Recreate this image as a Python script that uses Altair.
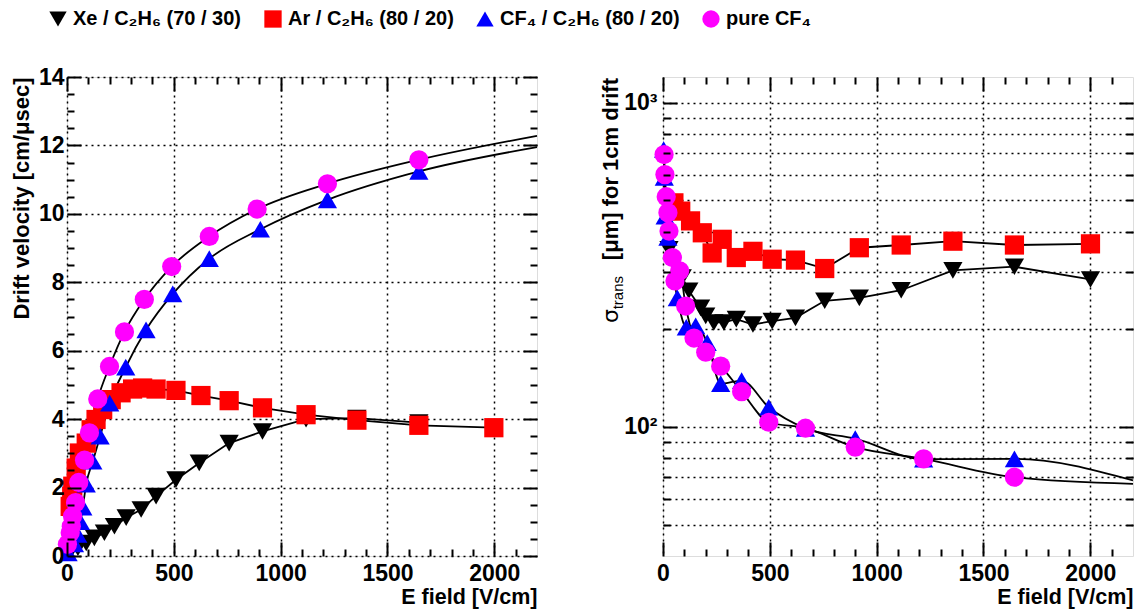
import altair as alt
import pandas as pd

FONT = "Liberation Sans"

# ---------------- series definitions ----------------
GAS = ["Xe / C₂H₆ (70 / 30)", "Ar / C₂H₆ (80 / 20)", "CF₄ / C₂H₆ (80 / 20)", "pure CF₄"]
SHAPES = ["triangle-down", "square", "triangle-up", "circle"]
COLORS = ["#000000", "#ff0000", "#0000ff", "#ff00ff"]

# ---------------- left panel: drift velocity [cm/us] ----------------
xe_vel_E = [12, 51, 90, 128, 175, 222, 277, 347, 417, 510, 619, 759, 915, 1119, 1357, 1647]
xe_vel = [0.10, 0.24, 0.38, 0.53, 0.68, 0.87, 1.12, 1.36, 1.75, 2.23, 2.72, 3.30, 3.64, 4.00, 4.03, 3.90]
ar_vel_E = [15, 22, 27, 43, 58, 90, 113, 136, 167, 207, 253, 307, 354, 417, 510, 627, 759, 915, 1119, 1357, 1647, 1998]
ar_vel = [1.45, 1.75, 2.04, 2.57, 3.01, 3.30, 3.69, 3.99, 4.28, 4.57, 4.77, 4.88, 4.91, 4.88, 4.84, 4.69, 4.54, 4.33, 4.13, 3.97, 3.82, 3.75]
cfmix_vel_E = [5, 35, 50, 63, 74, 90, 121, 155, 200, 275, 370, 495, 666, 905, 1219, 1647]
cfmix_vel = [0.09, 0.35, 0.63, 1.00, 1.43, 2.10, 2.77, 3.50, 4.47, 5.52, 6.61, 7.66, 8.69, 9.55, 10.41, 11.24]
cf4_vel_E = [2, 15, 20, 26, 40, 55, 82, 105, 144, 199, 269, 362, 490, 666, 890, 1219, 1647]
cf4_vel = [0.34, 0.68, 0.87, 1.16, 1.56, 2.15, 2.80, 3.60, 4.59, 5.54, 6.55, 7.50, 8.46, 9.34, 10.14, 10.88, 11.58]
# fitted curves continue to the end of the axis (values read at E = 2200)
curve_end_E = 2200
cfmix_vel_end = 11.95
cf4_vel_end = 12.28

# ---------------- right panel: sigma_trans [um] for 1 cm drift ----------------
xe_sig_E = [28, 90, 121, 176, 200, 238, 285, 343, 421, 511, 620, 757, 919, 1115, 1357, 1645, 2001]
xe_sig = [353, 289, 263, 233, 220, 210, 210, 215, 207, 212, 217, 245, 250, 264, 304, 312, 285]
ar_sig_E = [51, 83, 129, 184, 230, 277, 343, 421, 511, 620, 757, 919, 1115, 1357, 1645, 2001]
ar_sig = [491, 463, 432, 397, 344, 379, 333, 348, 329, 327, 308, 357, 364, 374, 364, 367]
cfmix_sig_E = [3, 6, 10, 23, 67, 109, 153, 207, 270, 368, 495, 667, 900, 1220, 1645]
cfmix_sig = [717, 588, 447, 384, 250, 203, 205, 182, 136, 139, 115, 99, 92, 79.5, 79.7]
cf4_sig_E = [5, 9, 15, 23, 28, 44, 56, 78, 106, 145, 200, 270, 368, 495, 667, 900, 1220, 1645]
cf4_sig = [692, 600, 513, 458, 402, 333, 282, 303, 236, 188, 170, 154, 128.5, 103.4, 99.1, 86.6, 79.7, 70]
cfmix_sig_end = 68.4
cf4_sig_end = 66.8

# ---------------- axis tick definitions ----------------
x_major = [0, 500, 1000, 1500, 2000]
x_minor = [v for v in range(100, 2200, 100) if v % 500 != 0]
vel_major = [0, 2, 4, 6, 8, 10, 12, 14]
vel_minor = [v / 2 for v in range(1, 28) if v % 4 != 0]
sig_major = [100, 1000]
sig_minor = [50, 60, 70, 80, 90, 200, 300, 400, 500, 600, 700, 800, 900]
sig_grid = sig_minor + sig_major

x_title = "E field [V/cm]"
vel_title = "Drift velocity [cm/μsec]"
sig_title_main = "[μm] for 1cm drift"
sig_title_sub = "trans"
sig_title_sym = "σ"

W, H = 470, 479
MAJ, MIN = 14, 7


def frame(series):
    rows = []
    for gas, es, vals in series:
        for e, v in zip(es, vals):
            rows.append({"gas": gas, "E": e, "val": v})
    return pd.DataFrame(rows)


def tick_axis(orient, values, size, **extra):
    kw = dict(orient=orient, values=values, tickSize=size, offset=-size, domain=False,
              grid=False, labels=False, title=None, ticks=True, tickColor="black",
              tickWidth=2, zindex=1)
    kw.update(extra)
    return alt.Axis(**kw)


def grid_axis(orient, values):
    return alt.Axis(orient=orient, values=values, grid=True, ticks=False, labels=False,
                    domain=False, title=None, gridColor="black", gridDash=[2, 4],
                    gridWidth=1.5, gridOpacity=1, zindex=0)


LABEL_KW = dict(labels=True, labelFont=FONT, labelFontSize=23, labelFontWeight="bold",
                labelColor="black", labelFlush=False, labelOverlap=False)

legend_kw = dict(orient="none", legendX=-19, legendY=-68, direction="horizontal",
                 columns=4, title=None, labelFont=FONT, labelFontSize=20,
                 labelFontWeight="bold", labelColor="black", labelLimit=500,
                 symbolSize=300, symbolStrokeWidth=0, columnPadding=21,
                 labelOffset=5, symbolOpacity=1)

color_enc = alt.Color("gas:N", scale=alt.Scale(domain=GAS, range=COLORS), legend=alt.Legend(**legend_kw))
shape_enc = alt.Shape("gas:N", scale=alt.Scale(domain=GAS, range=SHAPES), legend=alt.Legend(**legend_kw))
order_enc = alt.Order("idx:Q")


def panel(points, linear, curves, yscale, y_main_axis, y_minor_vals, y_major_vals, y_grid_vals, extra=()):
    points = points.copy()
    points["idx"] = range(len(points))
    xs = alt.Scale(domain=[0, 2200], nice=False, zero=False)
    x_main = tick_axis("bottom", x_major, MAJ, title=x_title, titleAnchor="end",
                       titleFont=FONT, titleFontSize=21.5, titleFontWeight="bold",
                       titleColor="black", titlePadding=1, labelPadding=6, format="d",
                       **LABEL_KW)

    def X(axis):
        return alt.X("E:Q", scale=xs, axis=axis)

    def Y(axis):
        return alt.Y("val:Q", scale=yscale, axis=axis)

    layers = []
    # grid
    layers.append(alt.Chart(points).mark_point(opacity=0).encode(
        x=X(grid_axis("bottom", x_major)), y=Y(grid_axis("left", y_grid_vals))))
    # minor ticks bottom / left
    layers.append(alt.Chart(points).mark_point(opacity=0).encode(
        x=X(tick_axis("bottom", x_minor, MIN)), y=Y(tick_axis("left", y_minor_vals, MIN))))
    # major ticks top / right
    layers.append(alt.Chart(points).mark_point(opacity=0).encode(
        x=X(tick_axis("top", x_major, MAJ)), y=Y(tick_axis("right", y_major_vals, MAJ))))
    # minor ticks top / right
    layers.append(alt.Chart(points).mark_point(opacity=0).encode(
        x=X(tick_axis("top", x_minor, MIN)), y=Y(tick_axis("right", y_minor_vals, MIN))))
    # connecting lines
    layers.append(alt.Chart(linear).mark_line(color="black", strokeWidth=1.8).encode(
        x=X(None), y=Y(None), detail="gas:N"))
    layers.append(alt.Chart(curves).mark_line(color="black", strokeWidth=1.8, interpolate="monotone").encode(
        x=X(None), y=Y(None), detail="gas:N"))
    # markers (with main labelled axes)
    layers.append(alt.Chart(points).mark_point(filled=True, opacity=1, size=370, strokeWidth=0).encode(
        x=X(x_main), y=Y(y_main_axis), color=color_enc, shape=shape_enc, order=order_enc))
    layers.extend(extra)
    return alt.layer(*layers).resolve_axis(x="independent", y="independent").properties(width=W, height=H)


# ----- left panel data frames -----
vel_points = frame([(GAS[0], xe_vel_E, xe_vel), (GAS[1], ar_vel_E, ar_vel),
                    (GAS[2], cfmix_vel_E, cfmix_vel), (GAS[3], cf4_vel_E, cf4_vel)])
vel_linear = frame([(GAS[0], xe_vel_E, xe_vel), (GAS[1], ar_vel_E, ar_vel)])
vel_curves = frame([(GAS[2], cfmix_vel_E + [curve_end_E], cfmix_vel + [cfmix_vel_end]),
                    (GAS[3], cf4_vel_E + [curve_end_E], cf4_vel + [cf4_vel_end])])

vel_axis = tick_axis("left", vel_major, MAJ, title=vel_title, titleAnchor="end",
                     titleFont=FONT, titleFontSize=22, titleFontWeight="bold",
                     titleColor="black", titlePadding=5, labelPadding=3, **LABEL_KW)
left = panel(vel_points, vel_linear, vel_curves,
             alt.Scale(domain=[0, 14], nice=False, zero=False),
             vel_axis, vel_minor, vel_major, vel_major)

# ----- right panel data frames -----
sig_points = frame([(GAS[0], xe_sig_E, xe_sig), (GAS[1], ar_sig_E, ar_sig),
                    (GAS[2], cfmix_sig_E, cfmix_sig), (GAS[3], cf4_sig_E, cf4_sig)])
sig_linear = frame([(GAS[0], xe_sig_E, xe_sig), (GAS[1], ar_sig_E, ar_sig)])
sig_curves = frame([(GAS[2], cfmix_sig_E + [curve_end_E], cfmix_sig + [cfmix_sig_end]),
                    (GAS[3], cf4_sig_E + [curve_end_E], cf4_sig + [cf4_sig_end])])

sig_axis = tick_axis("left", sig_major, MAJ, labelPadding=6,
                     labelExpr="datum.value == 1000 ? '10³' : '10²'", **LABEL_KW)

title_layers = [
    alt.Chart(pd.DataFrame({"t": [sig_title_main]})).mark_text(
        angle=270, align="right", baseline="alphabetic", font=FONT, fontSize=22,
        fontWeight="bold", color="black").encode(x=alt.value(-45), y=alt.value(1), text="t:N"),
    alt.Chart(pd.DataFrame({"t": [sig_title_sub]})).mark_text(
        angle=270, align="right", baseline="alphabetic", font=FONT, fontSize=15,
        color="black").encode(x=alt.value(-40), y=alt.value(199), text="t:N"),
    alt.Chart(pd.DataFrame({"t": [sig_title_sym]})).mark_text(
        angle=270, align="right", baseline="alphabetic", font="DejaVu Sans", fontSize=22,
        color="black").encode(x=alt.value(-45), y=alt.value(232), text="t:N"),
]

right = panel(sig_points, sig_linear, sig_curves,
              alt.Scale(type="log", domain=[40, 1200], nice=False),
              sig_axis, sig_minor, sig_major, sig_grid, extra=title_layers)

chart = alt.hconcat(left, right, spacing=126).properties(
    bounds="flush",
    padding={"left": 9, "top": 9, "right": 2, "bottom": 2},
    background="white",
).configure_view(stroke="black", strokeWidth=2.5).configure(font=FONT)

chart.save("out.html", embed_options={"renderer": "svg", "actions": False})
